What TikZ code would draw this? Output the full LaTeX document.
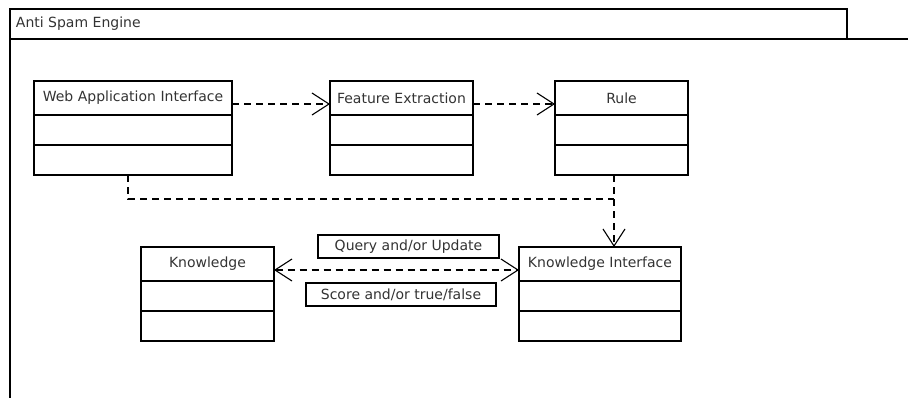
\documentclass[tikz,border=0pt]{standalone}
\usepackage{fontspec}
\setmainfont{DejaVu Sans}
\usetikzlibrary{positioning,arrows.meta}

\tikzset{
  umlbox/.style={draw, outer sep=0pt, inner sep=2pt, minimum width=#1},
  classhead/.style={umlbox=#1, minimum height=34pt},
  classpart/.style={umlbox=#1, minimum height=30pt},
  dep/.style={dash pattern=on 7pt off 5pt},
  barb/.tip={Straight Barb[length=17pt,width=22pt,line width=1.1pt]},
  opentip/.style={-barb},
  bothtips/.style={barb-barb},
  lbl/.style={draw, outer sep=0pt, inner sep=2pt, minimum height=23pt},
}

\begin{document}
\begin{tikzpicture}[x=1pt,y=1pt,yscale=-1,xscale=1,line width=1.2pt,
  font=\fontsize{14}{17}\selectfont, text=black!80]
\useasboundingbox (0,0) rectangle (908,397);
\clip (0,0) rectangle (908,397);

%Package frame
\draw (10,9) rectangle (847,39);
\draw (10,39) rectangle (930,420);
\node[anchor=west] (title) at (12,24) {Anti Spam Engine};

%Classes
\node[classhead=198pt] (web) at (133,98) {Web Application Interface};
\node[classpart=198pt, below=0pt of web] (webA) {};
\node[classpart=198pt, below=0pt of webA] (webB) {};

\node[classhead=143pt] (feat) at (401.5,98) {Feature Extraction};
\node[classpart=143pt, below=0pt of feat] (featA) {};
\node[classpart=143pt, below=0pt of featA] (featB) {};

\node[classhead=133pt] (rule) at (621.5,98) {Rule};
\node[classpart=133pt, below=0pt of rule] (ruleA) {};
\node[classpart=133pt, below=0pt of ruleA] (ruleB) {};

\node[classhead=133pt] (know) at (207.5,264) {Knowledge};
\node[classpart=133pt, below=0pt of know] (knowA) {};
\node[classpart=133pt, below=0pt of knowA] (knowB) {};

\node[classhead=162pt] (ki) at (600,264) {Knowledge Interface};
\node[classpart=162pt, below=0pt of ki] (kiA) {};
\node[classpart=162pt, below=0pt of kiA] (kiB) {};

%Connector rows and bends
\coordinate (row1) at (0,104);
\coordinate (row2) at (0,270);
\coordinate (webdrop) at (128,199);
\coordinate (join) at (614,199);

\draw[dep,opentip] (web.east |- row1) -- (feat.west |- row1);
\draw[dep,opentip] (feat.east |- row1) -- (rule.west |- row1);
\draw[dep] (webB.south -| webdrop) -- (webdrop) -- (join);
\draw[dep,opentip] (ruleB.south -| join) -- (ki.north -| join);
\draw[dep,bothtips] (know.east |- row2) -- (ki.west |- row2);

%Labels
\node[lbl, minimum width=181pt] (query) at (408.5,246.5) {Query and/or Update};
\node[lbl, minimum width=190pt] (score) at (401,294.5) {Score and/or true/false};

\end{tikzpicture}
\end{document}
